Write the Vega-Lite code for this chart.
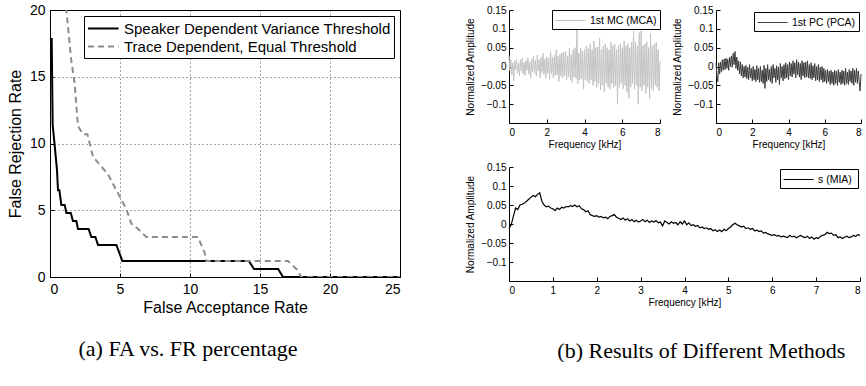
{
  "$schema": "https://vega.github.io/schema/vega-lite/v6.json",
  "background": "white",
  "padding": {"left": 6, "top": 2, "right": 0, "bottom": 0},
  "config": {
    "font": "Liberation Sans",
    "view": {"stroke": null},
    "axis": {"grid": false, "labelFont": "Liberation Sans", "titleFont": "Liberation Sans", "titleFontWeight": "normal", "domainColor": "black", "tickColor": "black", "labelColor": "black", "titleColor": "black", "tickSize": -4, "labelPadding": 9},
    "legend": {"labelFont": "Liberation Sans", "labelColor": "black", "strokeColor": "black", "fillColor": "white"},
    "title": {"font": "Liberation Serif", "fontWeight": "normal", "color": "black", "fontSize": 22}
  },
  "datasets": {
    "fafr": [
      {"fa": 0.12, "fr": 17.9, "s": "Speaker Dependent Variance Threshold"},
      {"fa": 0.19, "fr": 11.4, "s": "Speaker Dependent Variance Threshold"},
      {"fa": 0.33, "fr": 9.9, "s": "Speaker Dependent Variance Threshold"},
      {"fa": 0.5, "fr": 8.0, "s": "Speaker Dependent Variance Threshold"},
      {"fa": 0.57, "fr": 6.5, "s": "Speaker Dependent Variance Threshold"},
      {"fa": 0.67, "fr": 6.5, "s": "Speaker Dependent Variance Threshold"},
      {"fa": 0.81, "fr": 5.4, "s": "Speaker Dependent Variance Threshold"},
      {"fa": 1.05, "fr": 5.4, "s": "Speaker Dependent Variance Threshold"},
      {"fa": 1.17, "fr": 4.8, "s": "Speaker Dependent Variance Threshold"},
      {"fa": 1.48, "fr": 4.8, "s": "Speaker Dependent Variance Threshold"},
      {"fa": 1.64, "fr": 4.2, "s": "Speaker Dependent Variance Threshold"},
      {"fa": 1.88, "fr": 4.2, "s": "Speaker Dependent Variance Threshold"},
      {"fa": 2.0, "fr": 3.6, "s": "Speaker Dependent Variance Threshold"},
      {"fa": 2.76, "fr": 3.6, "s": "Speaker Dependent Variance Threshold"},
      {"fa": 2.95, "fr": 3.0, "s": "Speaker Dependent Variance Threshold"},
      {"fa": 3.24, "fr": 3.0, "s": "Speaker Dependent Variance Threshold"},
      {"fa": 3.43, "fr": 2.4, "s": "Speaker Dependent Variance Threshold"},
      {"fa": 4.74, "fr": 2.4, "s": "Speaker Dependent Variance Threshold"},
      {"fa": 5.17, "fr": 1.2, "s": "Speaker Dependent Variance Threshold"},
      {"fa": 14.2, "fr": 1.2, "s": "Speaker Dependent Variance Threshold"},
      {"fa": 14.57, "fr": 0.6, "s": "Speaker Dependent Variance Threshold"},
      {"fa": 16.3, "fr": 0.6, "s": "Speaker Dependent Variance Threshold"},
      {"fa": 16.64, "fr": 0, "s": "Speaker Dependent Variance Threshold"},
      {"fa": 25, "fr": 0, "s": "Speaker Dependent Variance Threshold"},
      {"fa": 1.15, "fr": 20.2, "s": "Trace Dependent, Equal Threshold"},
      {"fa": 1.52, "fr": 16.2, "s": "Trace Dependent, Equal Threshold"},
      {"fa": 1.76, "fr": 14.5, "s": "Trace Dependent, Equal Threshold"},
      {"fa": 2.0, "fr": 11.3, "s": "Trace Dependent, Equal Threshold"},
      {"fa": 2.36, "fr": 10.7, "s": "Trace Dependent, Equal Threshold"},
      {"fa": 2.67, "fr": 10.7, "s": "Trace Dependent, Equal Threshold"},
      {"fa": 3.07, "fr": 9.0, "s": "Trace Dependent, Equal Threshold"},
      {"fa": 4.14, "fr": 7.7, "s": "Trace Dependent, Equal Threshold"},
      {"fa": 4.74, "fr": 6.5, "s": "Trace Dependent, Equal Threshold"},
      {"fa": 5.45, "fr": 5.1, "s": "Trace Dependent, Equal Threshold"},
      {"fa": 5.81, "fr": 4.0, "s": "Trace Dependent, Equal Threshold"},
      {"fa": 6.29, "fr": 3.6, "s": "Trace Dependent, Equal Threshold"},
      {"fa": 6.88, "fr": 3.0, "s": "Trace Dependent, Equal Threshold"},
      {"fa": 10.57, "fr": 3.0, "s": "Trace Dependent, Equal Threshold"},
      {"fa": 11.05, "fr": 1.8, "s": "Trace Dependent, Equal Threshold"},
      {"fa": 11.17, "fr": 1.2, "s": "Trace Dependent, Equal Threshold"},
      {"fa": 17.0, "fr": 1.2, "s": "Trace Dependent, Equal Threshold"},
      {"fa": 17.6, "fr": 0.6, "s": "Trace Dependent, Equal Threshold"},
      {"fa": 17.95, "fr": 0, "s": "Trace Dependent, Equal Threshold"},
      {"fa": 25, "fr": 0, "s": "Trace Dependent, Equal Threshold"}
    ],
    "mca": [
      {"f":0.00,"a":0.028},{"f":0.05,"a":-0.012},{"f":0.10,"a":0.018},{"f":0.15,"a":-0.022},{"f":0.20,"a":0.01},{"f":0.25,"a":-0.038},{"f":0.30,"a":0.015},{"f":0.35,"a":-0.008},{"f":0.40,"a":0.02},{"f":0.45,"a":-0.018},
      {"f":0.50,"a":0.008},{"f":0.55,"a":-0.025},{"f":0.60,"a":0.018},{"f":0.65,"a":-0.012},{"f":0.70,"a":0.022},{"f":0.75,"a":-0.02},{"f":0.80,"a":0.01},{"f":0.85,"a":-0.024},{"f":0.90,"a":0.016},{"f":0.95,"a":-0.01},
      {"f":1.00,"a":0.024},{"f":1.05,"a":-0.02},{"f":1.10,"a":0.012},{"f":1.15,"a":-0.03},{"f":1.20,"a":0.02},{"f":1.25,"a":-0.014},{"f":1.30,"a":0.028},{"f":1.35,"a":-0.018},{"f":1.40,"a":0.016},{"f":1.45,"a":-0.026},
      {"f":1.50,"a":0.03},{"f":1.55,"a":-0.012},{"f":1.60,"a":0.018},{"f":1.65,"a":-0.03},{"f":1.70,"a":0.024},{"f":1.75,"a":-0.016},{"f":1.80,"a":0.035},{"f":1.85,"a":-0.022},{"f":1.90,"a":0.02},{"f":1.95,"a":-0.032},
      {"f":2.00,"a":0.026},{"f":2.05,"a":-0.018},{"f":2.10,"a":0.022},{"f":2.15,"a":-0.034},{"f":2.20,"a":0.04},{"f":2.25,"a":-0.02},{"f":2.30,"a":0.025},{"f":2.35,"a":-0.03},{"f":2.40,"a":0.03},{"f":2.45,"a":-0.024},
      {"f":2.50,"a":0.045},{"f":2.55,"a":-0.022},{"f":2.60,"a":0.028},{"f":2.65,"a":-0.04},{"f":2.70,"a":0.032},{"f":2.75,"a":-0.026},{"f":2.80,"a":0.036},{"f":2.85,"a":-0.03},{"f":2.90,"a":0.038},{"f":2.95,"a":-0.024},
      {"f":3.00,"a":0.04},{"f":3.05,"a":-0.036},{"f":3.10,"a":0.028},{"f":3.15,"a":-0.028},{"f":3.20,"a":0.048},{"f":3.25,"a":-0.036},{"f":3.30,"a":0.032},{"f":3.35,"a":-0.042},{"f":3.40,"a":0.044},{"f":3.45,"a":-0.028},
      {"f":3.50,"a":0.05},{"f":3.55,"a":-0.032},{"f":3.60,"a":0.1},{"f":3.65,"a":-0.045},{"f":3.70,"a":0.036},{"f":3.75,"a":-0.036},{"f":3.80,"a":0.048},{"f":3.85,"a":-0.032},{"f":3.90,"a":0.04},{"f":3.95,"a":-0.06},
      {"f":4.00,"a":0.045},{"f":4.05,"a":-0.036},{"f":4.10,"a":0.055},{"f":4.15,"a":-0.04},{"f":4.20,"a":0.048},{"f":4.25,"a":-0.045},{"f":4.30,"a":0.06},{"f":4.35,"a":-0.035},{"f":4.40,"a":0.045},{"f":4.45,"a":-0.05},
      {"f":4.50,"a":0.068},{"f":4.55,"a":-0.04},{"f":4.60,"a":0.05},{"f":4.65,"a":-0.055},{"f":4.70,"a":0.052},{"f":4.75,"a":-0.045},{"f":4.80,"a":0.075},{"f":4.85,"a":-0.062},{"f":4.90,"a":0.045},{"f":4.95,"a":-0.05},
      {"f":5.00,"a":0.055},{"f":5.05,"a":-0.068},{"f":5.10,"a":0.06},{"f":5.15,"a":-0.045},{"f":5.20,"a":0.05},{"f":5.25,"a":-0.055},{"f":5.30,"a":0.044},{"f":5.35,"a":-0.06},{"f":5.40,"a":0.065},{"f":5.45,"a":-0.045},
      {"f":5.50,"a":0.055},{"f":5.55,"a":-0.055},{"f":5.60,"a":0.06},{"f":5.65,"a":-0.05},{"f":5.70,"a":0.045},{"f":5.75,"a":-0.1},{"f":5.80,"a":0.055},{"f":5.85,"a":-0.055},{"f":5.90,"a":0.06},{"f":5.95,"a":-0.045},
      {"f":6.00,"a":0.05},{"f":6.05,"a":-0.06},{"f":6.10,"a":0.068},{"f":6.15,"a":-0.05},{"f":6.20,"a":0.055},{"f":6.25,"a":-0.068},{"f":6.30,"a":0.06},{"f":6.35,"a":-0.085},{"f":6.40,"a":0.05},{"f":6.45,"a":-0.055},
      {"f":6.50,"a":0.065},{"f":6.55,"a":-0.045},{"f":6.60,"a":0.095},{"f":6.65,"a":-0.06},{"f":6.70,"a":0.065},{"f":6.75,"a":-0.05},{"f":6.80,"a":0.055},{"f":6.85,"a":-0.1},{"f":6.90,"a":0.09},{"f":6.95,"a":-0.055},
      {"f":7.00,"a":0.095},{"f":7.05,"a":-0.065},{"f":7.10,"a":0.055},{"f":7.15,"a":-0.05},{"f":7.20,"a":0.06},{"f":7.25,"a":-0.072},{"f":7.30,"a":0.065},{"f":7.35,"a":-0.055},{"f":7.40,"a":0.05},{"f":7.45,"a":-0.085},
      {"f":7.50,"a":0.088},{"f":7.55,"a":-0.06},{"f":7.60,"a":0.055},{"f":7.65,"a":-0.065},{"f":7.70,"a":0.06},{"f":7.75,"a":-0.05},{"f":7.80,"a":0.065},{"f":7.85,"a":-0.055},{"f":7.90,"a":0.045},{"f":7.95,"a":-0.065},
      {"f":8.00,"a":0.015}
    ],
    "pca": [
      {"f":0.00,"a":0.01},{"f":0.05,"a":-0.025},{"f":0.10,"a":-0.04},{"f":0.15,"a":0.01},{"f":0.20,"a":-0.02},{"f":0.25,"a":0.012},{"f":0.30,"a":-0.015},{"f":0.35,"a":0.018},{"f":0.40,"a":-0.01},{"f":0.45,"a":0.02},
      {"f":0.50,"a":-0.008},{"f":0.55,"a":0.022},{"f":0.60,"a":-0.005},{"f":0.65,"a":0.02},{"f":0.70,"a":-0.01},{"f":0.75,"a":0.025},{"f":0.80,"a":0.0},{"f":0.85,"a":0.028},{"f":0.90,"a":-0.002},{"f":0.95,"a":0.035},
      {"f":1.00,"a":0.005},{"f":1.05,"a":0.04},{"f":1.10,"a":-0.005},{"f":1.15,"a":0.025},{"f":1.20,"a":-0.01},{"f":1.25,"a":0.015},{"f":1.30,"a":-0.02},{"f":1.35,"a":0.012},{"f":1.40,"a":-0.025},{"f":1.45,"a":0.005},
      {"f":1.50,"a":-0.03},{"f":1.55,"a":0.0},{"f":1.60,"a":-0.028},{"f":1.65,"a":0.003},{"f":1.70,"a":-0.032},{"f":1.75,"a":-0.002},{"f":1.80,"a":-0.035},{"f":1.85,"a":0.005},{"f":1.90,"a":-0.03},{"f":1.95,"a":-0.005},
      {"f":2.00,"a":-0.038},{"f":2.05,"a":0.0},{"f":2.10,"a":-0.035},{"f":2.15,"a":-0.008},{"f":2.20,"a":-0.04},{"f":2.25,"a":0.002},{"f":2.30,"a":-0.035},{"f":2.35,"a":-0.005},{"f":2.40,"a":-0.042},{"f":2.45,"a":0.0},
      {"f":2.50,"a":-0.04},{"f":2.55,"a":-0.01},{"f":2.60,"a":-0.045},{"f":2.65,"a":0.003},{"f":2.70,"a":-0.058},{"f":2.75,"a":-0.005},{"f":2.80,"a":-0.04},{"f":2.85,"a":0.005},{"f":2.90,"a":-0.035},{"f":2.95,"a":-0.008},
      {"f":3.00,"a":-0.04},{"f":3.05,"a":0.0},{"f":3.10,"a":-0.045},{"f":3.15,"a":0.005},{"f":3.20,"a":-0.03},{"f":3.25,"a":-0.005},{"f":3.30,"a":-0.042},{"f":3.35,"a":0.002},{"f":3.40,"a":-0.035},{"f":3.45,"a":-0.002},
      {"f":3.50,"a":-0.048},{"f":3.55,"a":0.008},{"f":3.60,"a":-0.03},{"f":3.65,"a":0.0},{"f":3.70,"a":-0.038},{"f":3.75,"a":0.005},{"f":3.80,"a":-0.032},{"f":3.85,"a":0.01},{"f":3.90,"a":-0.03},{"f":3.95,"a":0.005},
      {"f":4.00,"a":-0.035},{"f":4.05,"a":0.012},{"f":4.10,"a":-0.025},{"f":4.15,"a":0.008},{"f":4.20,"a":-0.028},{"f":4.25,"a":0.015},{"f":4.30,"a":-0.02},{"f":4.35,"a":0.01},{"f":4.40,"a":-0.03},{"f":4.45,"a":0.018},
      {"f":4.50,"a":-0.022},{"f":4.55,"a":0.012},{"f":4.60,"a":-0.028},{"f":4.65,"a":0.008},{"f":4.70,"a":-0.035},{"f":4.75,"a":0.015},{"f":4.80,"a":-0.025},{"f":4.85,"a":0.01},{"f":4.90,"a":-0.03},{"f":4.95,"a":0.012},
      {"f":5.00,"a":-0.028},{"f":5.05,"a":0.015},{"f":5.10,"a":-0.03},{"f":5.15,"a":0.005},{"f":5.20,"a":-0.032},{"f":5.25,"a":0.01},{"f":5.30,"a":-0.035},{"f":5.35,"a":0.002},{"f":5.40,"a":-0.03},{"f":5.45,"a":0.008},
      {"f":5.50,"a":-0.038},{"f":5.55,"a":0.0},{"f":5.60,"a":-0.035},{"f":5.65,"a":0.005},{"f":5.70,"a":-0.04},{"f":5.75,"a":-0.002},{"f":5.80,"a":-0.035},{"f":5.85,"a":0.0},{"f":5.90,"a":-0.042},{"f":5.95,"a":-0.005},
      {"f":6.00,"a":-0.04},{"f":6.05,"a":-0.01},{"f":6.10,"a":-0.045},{"f":6.15,"a":-0.008},{"f":6.20,"a":-0.04},{"f":6.25,"a":-0.012},{"f":6.30,"a":-0.048},{"f":6.35,"a":-0.01},{"f":6.40,"a":-0.045},{"f":6.45,"a":-0.015},
      {"f":6.50,"a":-0.05},{"f":6.55,"a":-0.01},{"f":6.60,"a":-0.045},{"f":6.65,"a":-0.012},{"f":6.70,"a":-0.05},{"f":6.75,"a":-0.008},{"f":6.80,"a":-0.042},{"f":6.85,"a":-0.015},{"f":6.90,"a":-0.048},{"f":6.95,"a":-0.01},
      {"f":7.00,"a":-0.045},{"f":7.05,"a":-0.012},{"f":7.10,"a":-0.05},{"f":7.15,"a":-0.005},{"f":7.20,"a":-0.045},{"f":7.25,"a":-0.015},{"f":7.30,"a":-0.048},{"f":7.35,"a":-0.008},{"f":7.40,"a":-0.04},{"f":7.45,"a":-0.012},
      {"f":7.50,"a":-0.045},{"f":7.55,"a":-0.005},{"f":7.60,"a":-0.05},{"f":7.65,"a":-0.01},{"f":7.70,"a":-0.042},{"f":7.75,"a":-0.005},{"f":7.80,"a":-0.045},{"f":7.85,"a":-0.012},{"f":7.90,"a":-0.04},{"f":7.95,"a":-0.065},
      {"f":8.00,"a":-0.02}
    ],
    "mia": [
      {"f":0.00,"a":-0.012},{"f":0.05,"a":-0.002},{"f":0.10,"a":0.02},{"f":0.15,"a":0.042},{"f":0.20,"a":0.038},{"f":0.25,"a":0.05},{"f":0.30,"a":0.052},{"f":0.35,"a":0.055},{"f":0.40,"a":0.06},{"f":0.45,"a":0.065},
      {"f":0.50,"a":0.07},{"f":0.55,"a":0.075},{"f":0.60,"a":0.072},{"f":0.65,"a":0.078},{"f":0.70,"a":0.082},{"f":0.75,"a":0.06},{"f":0.80,"a":0.05},{"f":0.85,"a":0.045},{"f":0.90,"a":0.047},{"f":0.95,"a":0.042},
      {"f":1.00,"a":0.04},{"f":1.05,"a":0.035},{"f":1.10,"a":0.042},{"f":1.15,"a":0.038},{"f":1.20,"a":0.044},{"f":1.25,"a":0.042},{"f":1.30,"a":0.046},{"f":1.35,"a":0.045},{"f":1.40,"a":0.048},{"f":1.45,"a":0.046},
      {"f":1.50,"a":0.05},{"f":1.55,"a":0.045},{"f":1.60,"a":0.048},{"f":1.65,"a":0.04},{"f":1.70,"a":0.038},{"f":1.75,"a":0.032},{"f":1.80,"a":0.035},{"f":1.85,"a":0.025},{"f":1.90,"a":0.022},{"f":1.95,"a":0.02},
      {"f":2.00,"a":0.022},{"f":2.05,"a":0.018},{"f":2.10,"a":0.02},{"f":2.15,"a":0.016},{"f":2.20,"a":0.018},{"f":2.25,"a":0.014},{"f":2.30,"a":0.02},{"f":2.35,"a":0.022},{"f":2.40,"a":0.025},{"f":2.45,"a":0.018},
      {"f":2.50,"a":0.015},{"f":2.55,"a":0.012},{"f":2.60,"a":0.016},{"f":2.65,"a":0.01},{"f":2.70,"a":0.014},{"f":2.75,"a":0.008},{"f":2.80,"a":0.012},{"f":2.85,"a":0.006},{"f":2.90,"a":0.01},{"f":2.95,"a":0.005},
      {"f":3.00,"a":0.008},{"f":3.05,"a":0.012},{"f":3.10,"a":0.006},{"f":3.15,"a":0.01},{"f":3.20,"a":0.004},{"f":3.25,"a":0.008},{"f":3.30,"a":0.005},{"f":3.35,"a":0.009},{"f":3.40,"a":0.003},{"f":3.45,"a":0.005},
      {"f":3.50,"a":-0.005},{"f":3.55,"a":0.008},{"f":3.60,"a":0.004},{"f":3.65,"a":0.0},{"f":3.70,"a":0.006},{"f":3.75,"a":0.002},{"f":3.80,"a":0.004},{"f":3.85,"a":-0.002},{"f":3.90,"a":0.006},{"f":3.95,"a":0.0},
      {"f":4.00,"a":0.008},{"f":4.05,"a":-0.002},{"f":4.10,"a":0.003},{"f":4.15,"a":-0.004},{"f":4.20,"a":-0.002},{"f":4.25,"a":-0.006},{"f":4.30,"a":-0.004},{"f":4.35,"a":-0.01},{"f":4.40,"a":-0.008},{"f":4.45,"a":-0.012},
      {"f":4.50,"a":-0.01},{"f":4.55,"a":-0.014},{"f":4.60,"a":-0.012},{"f":4.65,"a":-0.018},{"f":4.70,"a":-0.015},{"f":4.75,"a":-0.02},{"f":4.80,"a":-0.016},{"f":4.85,"a":-0.02},{"f":4.90,"a":-0.014},{"f":4.95,"a":-0.018},
      {"f":5.00,"a":-0.012},{"f":5.05,"a":-0.008},{"f":5.10,"a":-0.002},{"f":5.15,"a":0.002},{"f":5.20,"a":-0.002},{"f":5.25,"a":-0.005},{"f":5.30,"a":-0.008},{"f":5.35,"a":-0.006},{"f":5.40,"a":-0.012},{"f":5.45,"a":-0.01},
      {"f":5.50,"a":-0.014},{"f":5.55,"a":-0.012},{"f":5.60,"a":-0.018},{"f":5.65,"a":-0.016},{"f":5.70,"a":-0.02},{"f":5.75,"a":-0.018},{"f":5.80,"a":-0.024},{"f":5.85,"a":-0.022},{"f":5.90,"a":-0.026},{"f":5.95,"a":-0.028},
      {"f":6.00,"a":-0.03},{"f":6.05,"a":-0.028},{"f":6.10,"a":-0.032},{"f":6.15,"a":-0.03},{"f":6.20,"a":-0.034},{"f":6.25,"a":-0.032},{"f":6.30,"a":-0.034},{"f":6.35,"a":-0.036},{"f":6.40,"a":-0.03},{"f":6.45,"a":-0.034},
      {"f":6.50,"a":-0.032},{"f":6.55,"a":-0.036},{"f":6.60,"a":-0.033},{"f":6.65,"a":-0.03},{"f":6.70,"a":-0.034},{"f":6.75,"a":-0.036},{"f":6.80,"a":-0.032},{"f":6.85,"a":-0.038},{"f":6.90,"a":-0.034},{"f":6.95,"a":-0.04},
      {"f":7.00,"a":-0.036},{"f":7.05,"a":-0.038},{"f":7.10,"a":-0.032},{"f":7.15,"a":-0.03},{"f":7.20,"a":-0.028},{"f":7.25,"a":-0.022},{"f":7.30,"a":-0.025},{"f":7.35,"a":-0.024},{"f":7.40,"a":-0.03},{"f":7.45,"a":-0.028},
      {"f":7.50,"a":-0.036},{"f":7.55,"a":-0.034},{"f":7.60,"a":-0.038},{"f":7.65,"a":-0.035},{"f":7.70,"a":-0.032},{"f":7.75,"a":-0.036},{"f":7.80,"a":-0.034},{"f":7.85,"a":-0.03},{"f":7.90,"a":-0.033},{"f":7.95,"a":-0.028},
      {"f":8.00,"a":-0.03}
    ]
  },
  "spacing": 109,
  "bounds": "flush",
  "resolve": {"scale": {"color": "independent", "strokeDash": "independent"}, "legend": {"color": "independent", "strokeDash": "independent"}},
  "hconcat": [
    {
      "width": 350,
      "height": 267,
      "view": {"stroke": "black", "strokeWidth": 1},
      "data": {"name": "fafr"},
      "title": {"text": "(a) FA vs. FR percentage", "orient": "bottom", "anchor": "middle", "dx": -37, "offset": 24},
      "mark": {"type": "line", "strokeWidth": 2, "clip": true},
      "encoding": {
        "x": {"field": "fa", "type": "quantitative", "scale": {"domain": [0, 25], "nice": false, "zero": false},
          "axis": {"title": "False Acceptance Rate", "values": [0, 5, 10, 15, 20, 25], "grid": true, "gridDash": [1, 3], "gridColor": "black", "gridOpacity": 0.7, "labelFontSize": 14, "titleFontSize": 16, "titlePadding": 3}},
        "y": {"field": "fr", "type": "quantitative", "scale": {"domain": [0, 20], "nice": false},
          "axis": {"title": "False Rejection Rate", "values": [0, 5, 10, 15, 20], "grid": true, "gridDash": [1, 3], "gridColor": "black", "gridOpacity": 0.7, "labelFontSize": 14, "titleFontSize": 16, "titlePadding": 6}},
        "color": {"field": "s", "type": "nominal",
          "scale": {"domain": ["Speaker Dependent Variance Threshold", "Trace Dependent, Equal Threshold"], "range": ["black", "#8c8c8c"]},
          "legend": {"title": null, "orient": "top-right", "offset": 6, "padding": 3, "labelFontSize": 15, "symbolType": "M-1,0H2.6", "symbolSize": 289, "symbolStrokeWidth": 2, "labelOffset": 18, "labelLimit": 400, "rowPadding": 0}},
        "strokeDash": {"field": "s", "type": "nominal",
          "scale": {"domain": ["Speaker Dependent Variance Threshold", "Trace Dependent, Equal Threshold"], "range": [[1, 0], [6, 4]]},
          "legend": {"title": null, "orient": "top-right", "offset": 6, "padding": 3, "labelFontSize": 15, "symbolType": "M-1,0H2.6", "symbolSize": 289, "symbolStrokeWidth": 2, "labelOffset": 18, "labelLimit": 400, "rowPadding": 0}}
      }
    },
    {
      "title": {"text": "(b) Results of Different Methods", "orient": "bottom", "anchor": "middle", "dx": 37, "offset": 34},
      "spacing": 13,
      "resolve": {"scale": {"color": "independent"}, "legend": {"color": "independent"}},
      "vconcat": [
        {
          "spacing": 56,
          "bounds": "flush",
          "resolve": {"scale": {"color": "independent"}, "legend": {"color": "independent"}},
          "hconcat": [
            {
              "width": 151, "height": 113,
              "data": {"name": "mca"},
              "mark": {"type": "line", "strokeWidth": 1},
              "encoding": {
                "x": {"field": "f", "type": "quantitative", "scale": {"domain": [0, 8], "nice": false}, "axis": {"title": "Frequency [kHz]", "values": [0, 2, 4, 6, 8], "labelFontSize": 10, "titleFontSize": 10, "labelPadding": 8, "titlePadding": 2}},
                "y": {"field": "a", "type": "quantitative", "scale": {"domain": [-0.15, 0.15], "nice": false}, "axis": {"title": "Normalized Amplitude", "values": [-0.1, -0.05, 0, 0.05, 0.1, 0.15], "labelExpr": "datum.value == 0 ? '0' : replace(format(datum.value, '.2~f'), '-', '−')", "labelFontSize": 10, "titleFontSize": 10, "labelPadding": 7, "titlePadding": 5}},
                "color": {"datum": "1st MC (MCA)", "type": "nominal", "scale": {"range": ["#c4c4c4"]},
                  "legend": {"title": null, "orient": "top-right", "offset": 0, "padding": 3, "labelFontSize": 10.5, "symbolType": "M-1,0H3.3", "symbolSize": 196, "symbolStrokeWidth": 1, "labelOffset": 20}}
              }
            },
            {
              "width": 145, "height": 113,
              "data": {"name": "pca"},
              "mark": {"type": "line", "strokeWidth": 1},
              "encoding": {
                "x": {"field": "f", "type": "quantitative", "scale": {"domain": [0, 8], "nice": false}, "axis": {"title": "Frequency [kHz]", "values": [0, 2, 4, 6, 8], "labelFontSize": 10, "titleFontSize": 10, "labelPadding": 8, "titlePadding": 2}},
                "y": {"field": "a", "type": "quantitative", "scale": {"domain": [-0.15, 0.15], "nice": false}, "axis": {"title": "Normalized Amplitude", "values": [-0.1, -0.05, 0, 0.05, 0.1, 0.15], "labelExpr": "datum.value == 0 ? '0' : replace(format(datum.value, '.2~f'), '-', '−')", "labelFontSize": 10, "titleFontSize": 10, "labelPadding": 7, "titlePadding": 5}},
                "color": {"datum": "1st PC (PCA)", "type": "nominal", "scale": {"range": ["#3c3c3c"]},
                  "legend": {"title": null, "orient": "top-right", "offset": 2, "padding": 3, "labelFontSize": 10.5, "symbolType": "M-1,0H3.3", "symbolSize": 196, "symbolStrokeWidth": 1, "labelOffset": 20}}
              }
            }
          ]
        },
        {
          "width": 351, "height": 114,
          "data": {"name": "mia"},
          "mark": {"type": "line", "strokeWidth": 1.2},
          "encoding": {
            "x": {"field": "f", "type": "quantitative", "scale": {"domain": [0, 8], "nice": false}, "axis": {"title": "Frequency [kHz]", "values": [0, 1, 2, 3, 4, 5, 6, 7, 8], "labelFontSize": 10, "titleFontSize": 10, "labelPadding": 8, "titlePadding": 2}},
            "y": {"field": "a", "type": "quantitative", "scale": {"domain": [-0.15, 0.15], "nice": false}, "axis": {"title": "Normalized Amplitude", "values": [-0.1, -0.05, 0, 0.05, 0.1, 0.15], "labelExpr": "datum.value == 0 ? '0' : replace(format(datum.value, '.2~f'), '-', '−')", "labelFontSize": 10, "titleFontSize": 10, "labelPadding": 7, "titlePadding": 5}},
            "color": {"datum": "s  (MIA)", "type": "nominal", "scale": {"range": ["black"]},
              "legend": {"title": null, "orient": "top-right", "offset": 2, "padding": 3, "labelFontSize": 10.5, "symbolType": "M-1,0H3.3", "symbolSize": 196, "symbolStrokeWidth": 1, "labelOffset": 20}}
          }
        }
      ]
    }
  ]
}
